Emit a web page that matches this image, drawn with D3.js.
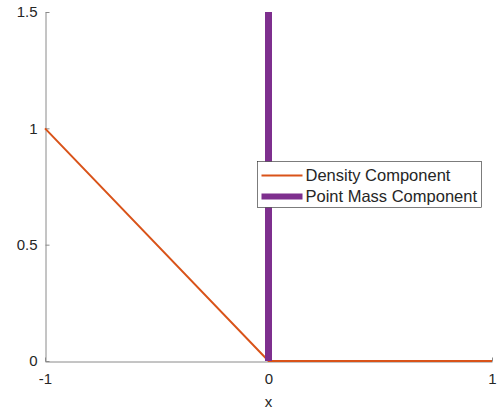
<!DOCTYPE html>
<html>
<head>
<meta charset="utf-8">
<script src="https://cdn.jsdelivr.net/npm/d3@7"></script>
<style>
  body { margin: 0; background: #fff; }
  text { font-family: "Liberation Sans", Arial, sans-serif; fill: #262626; }
</style>
</head>
<body>
<svg id="chart" width="497" height="415"></svg>
<script>
// --- data ---
const densityX = [-1, 0, 1];
const densityY = [1, 0, 0];
const massX = [0, 0];
const massY = [0, 1.5];
const xTicks = [-1, 0, 1];
const yTicks = [0, 0.5, 1, 1.5];
const legendLabels = ["Density Component", "Point Mass Component"];

const width = 497, height = 415;
const margin = { top: 12, right: 5, bottom: 54, left: 45 };

const svg = d3.select("#chart");

const x = d3.scaleLinear().domain([-1, 1]).range([margin.left, width - margin.right]);
const y = d3.scaleLinear().domain([0, 1.5]).range([height - margin.bottom, margin.top]);

const orange = "#D95319", purple = "#7E2F8E";

// axes (MATLAB style, ticks inward, box off)
const xAxis = svg.append("g")
    .attr("transform", `translate(0,${y(0) + 0.5})`)
    .call(d3.axisBottom(x).tickValues(xTicks).tickSizeInner(-4).tickSizeOuter(0)
        .tickFormat(d => String(d)));
const yAxis = svg.append("g")
    .attr("transform", `translate(${x(-1) + 0.5},0)`)
    .call(d3.axisLeft(y).tickValues(yTicks).tickSizeInner(-4).tickSizeOuter(0)
        .tickFormat(d => String(d)));

[xAxis, yAxis].forEach(g => {
    g.select(".domain").attr("stroke", "#8a8a8a");
    g.selectAll(".tick line").attr("stroke", "#8a8a8a");
    g.selectAll(".tick text").attr("font-size", 15).attr("fill", "#262626")
        .attr("font-family", "Liberation Sans, Arial, sans-serif");
});
xAxis.selectAll(".tick text").attr("y", 12).attr("dy", "0.71em");
yAxis.selectAll(".tick text").attr("x", -8);

svg.append("text")
    .attr("x", x(0)).attr("y", 407)
    .attr("text-anchor", "middle").attr("font-size", 15)
    .text("x");

// series
const line = d3.line().x(d => x(d[0])).y(d => y(d[1]));

svg.append("path")
    .datum(d3.zip(densityX, densityY))
    .attr("d", line)
    .attr("fill", "none").attr("stroke", orange).attr("stroke-width", 2);

svg.append("path")
    .datum(d3.zip(massX, massY))
    .attr("d", line)
    .attr("fill", "none").attr("stroke", purple).attr("stroke-width", 7);

// legend
const lg = svg.append("g").attr("transform", "translate(257.5,161.5)");
lg.append("rect").attr("width", 224).attr("height", 46)
    .attr("fill", "#fff").attr("stroke", "#262626").attr("stroke-width", 0.6);
const colors = [orange, purple], widths = [2, 6];
legendLabels.forEach((lab, i) => {
    const cy = 14 + i * 21;
    lg.append("line").attr("x1", 4).attr("x2", 45).attr("y1", cy).attr("y2", cy)
        .attr("stroke", colors[i]).attr("stroke-width", widths[i]);
    lg.append("text").attr("x", 48).attr("y", cy).attr("dy", "0.35em")
        .attr("font-size", 16.5).text(lab);
});
</script>
</body>
</html>
